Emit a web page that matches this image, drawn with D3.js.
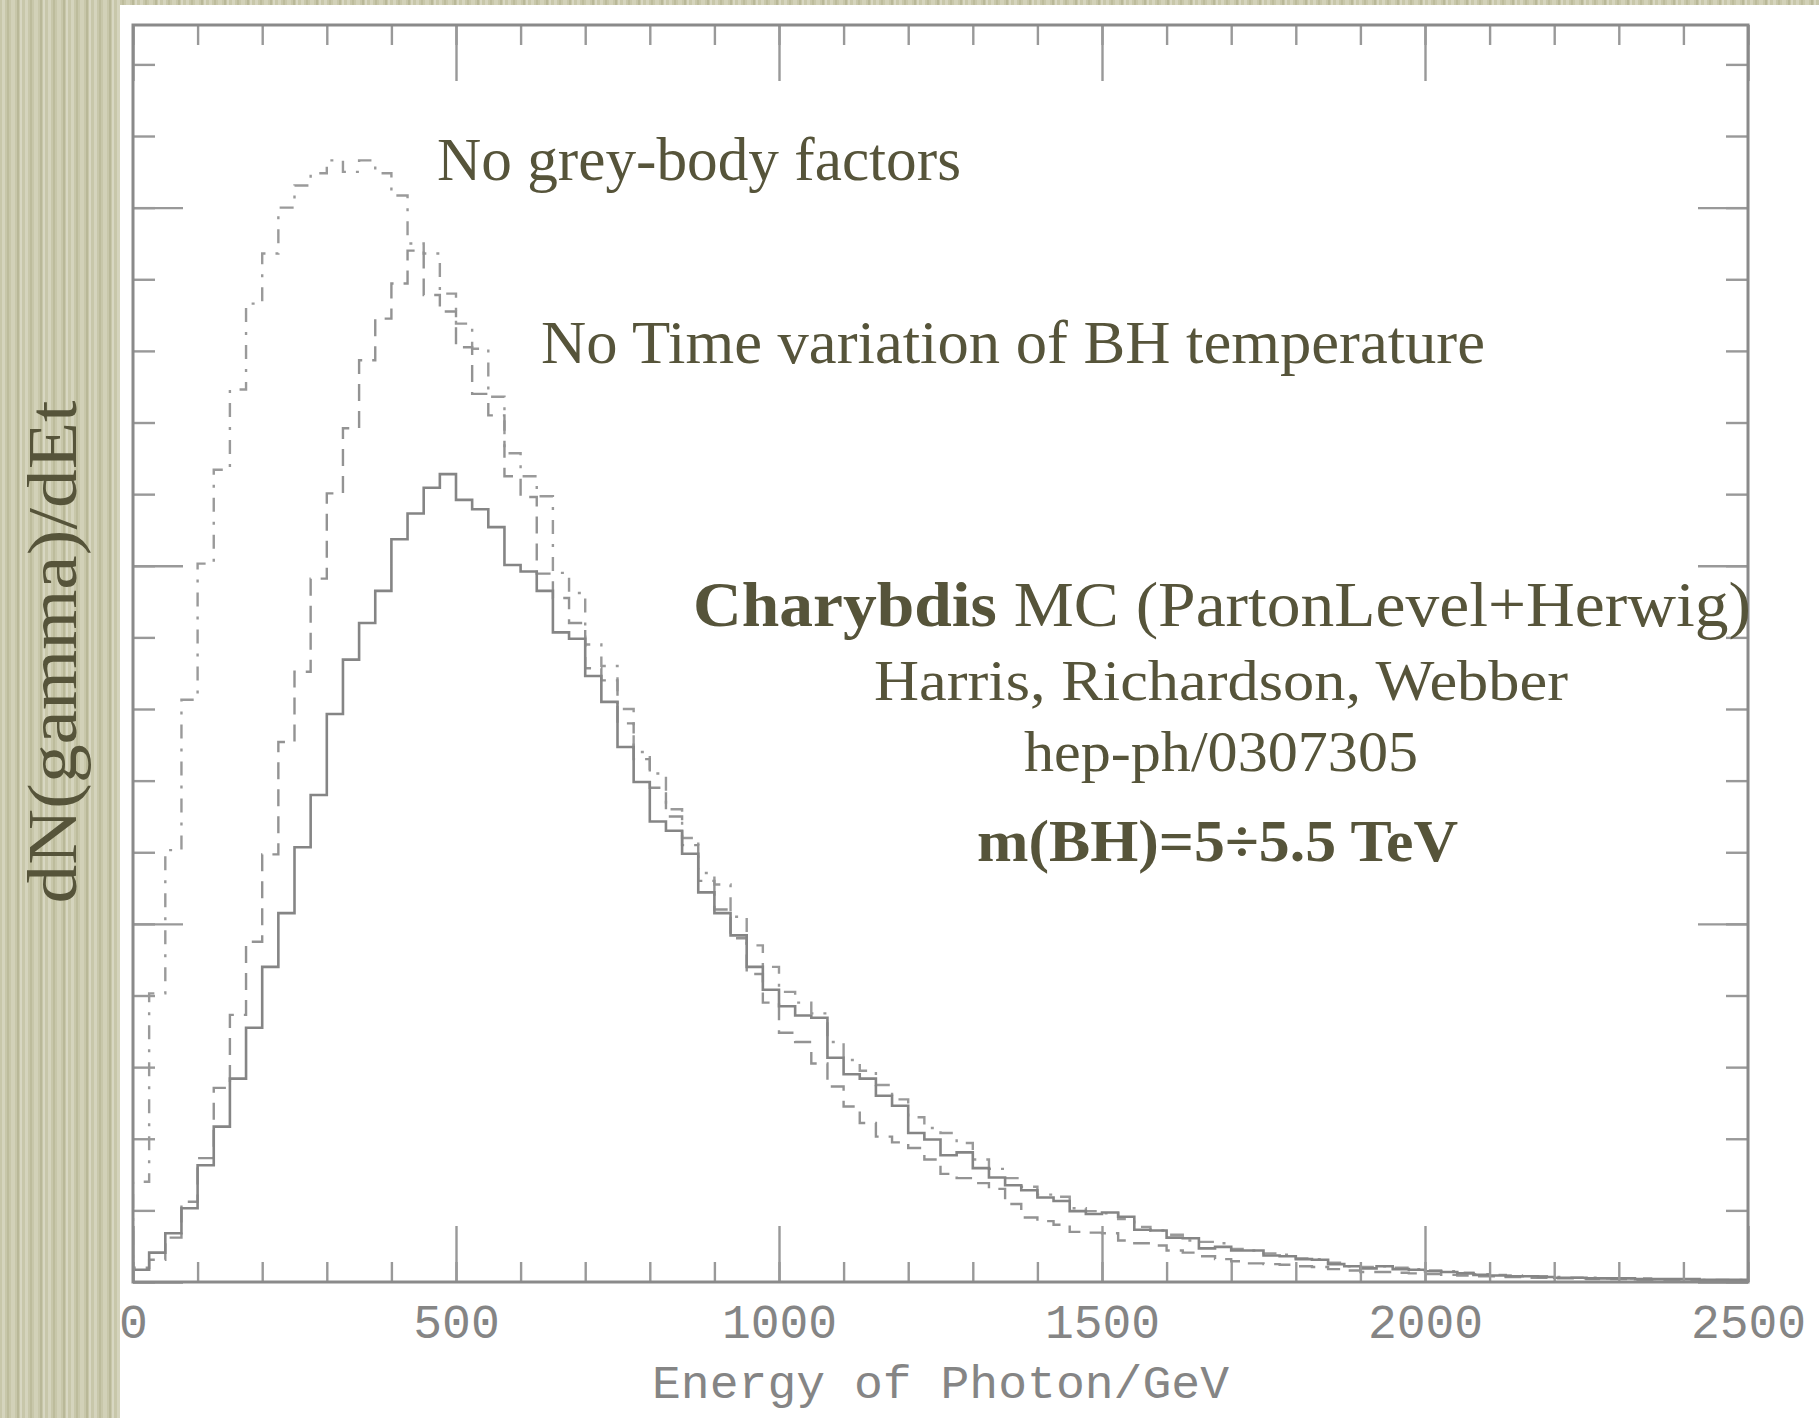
<!DOCTYPE html>
<html>
<head>
<meta charset="utf-8">
<script src="https://cdn.jsdelivr.net/npm/d3@7"></script>
<style>
  html, body { margin: 0; padding: 0; background: #c8c7a9; }
  svg { display: block; }
</style>
</head>
<body>
<svg id="chart" width="1819" height="1418"></svg>
<script>
// bins of 25 GeV, 0..2500
const binWidth = 25;

// full simulation (solid)
const charybdis = [
  0.17, 0.41, 0.68, 1.03, 1.63, 2.17, 2.84, 3.55, 4.40, 5.15,
  6.07, 6.80, 7.93, 8.69, 9.20, 9.65, 10.37, 10.73, 11.09, 11.28,
  10.92, 10.79, 10.54, 10.01, 9.92, 9.65, 9.07, 8.98, 8.46, 8.10,
  7.47, 6.98, 6.43, 6.30, 5.98, 5.44, 5.15, 4.84, 4.40, 4.08,
  3.85, 3.72, 3.69, 3.13, 2.90, 2.84, 2.60, 2.46, 2.08, 1.99,
  1.77, 1.81, 1.59, 1.46, 1.35, 1.28, 1.18, 1.13, 0.99, 0.95,
  0.97, 0.91, 0.73, 0.72, 0.62, 0.61, 0.47, 0.49, 0.44, 0.44,
  0.37, 0.36, 0.32, 0.31, 0.25, 0.22, 0.19, 0.22, 0.18, 0.17,
  0.15, 0.14, 0.12, 0.10, 0.09, 0.08, 0.08, 0.07, 0.06, 0.06,
  0.05, 0.05, 0.05, 0.04, 0.04, 0.04, 0.04, 0.03, 0.03, 0.03
];

// no time variation of BH temperature (dashed)
const noTimeVariation = [
  0.20, 0.31, 0.62, 1.12, 1.73, 2.71, 3.73, 4.75, 5.97, 7.54,
  8.52, 9.82, 11.01, 11.92, 12.87, 13.45, 13.94, 14.40, 13.78, 13.55,
  13.05, 12.40, 12.10, 11.25, 10.96, 9.89, 9.55, 9.20, 8.57, 8.40,
  7.80, 7.30, 6.90, 6.50, 6.10, 5.60, 5.20, 4.80, 4.30, 3.90,
  3.48, 3.35, 3.05, 2.73, 2.45, 2.22, 2.03, 1.95, 1.87, 1.71,
  1.51, 1.45, 1.38, 1.30, 1.09, 0.90, 0.85, 0.80, 0.70, 0.69,
  0.68, 0.58, 0.54, 0.51, 0.44, 0.41, 0.36, 0.32, 0.29, 0.26,
  0.25, 0.24, 0.22, 0.21, 0.18, 0.16, 0.14, 0.14, 0.13, 0.12,
  0.11, 0.10, 0.09, 0.08, 0.08, 0.07, 0.06, 0.06, 0.05, 0.05,
  0.04, 0.04, 0.04, 0.03, 0.03, 0.03, 0.03, 0.02, 0.02, 0.02
];

// no grey-body factors (dash-dot)
const noGreyBody = [
  1.40, 4.03, 6.03, 8.13, 10.03, 11.34, 12.46, 13.66, 14.36, 15.00,
  15.31, 15.48, 15.66, 15.50, 15.66, 15.48, 15.17, 14.50, 14.36, 13.80,
  13.38, 13.03, 12.36, 11.57, 11.25, 10.97, 9.90, 9.62, 8.90, 8.60,
  8.00, 7.40, 7.10, 6.60, 6.20, 5.71, 5.55, 5.10, 4.70, 4.40,
  4.05, 3.90, 3.75, 3.35, 3.10, 2.95, 2.75, 2.55, 2.30, 2.15,
  2.08, 1.94, 1.71, 1.58, 1.45, 1.33, 1.22, 1.19, 1.03, 0.99,
  0.96, 0.88, 0.77, 0.72, 0.66, 0.58, 0.56, 0.54, 0.46, 0.44,
  0.40, 0.38, 0.33, 0.32, 0.27, 0.22, 0.21, 0.22, 0.20, 0.18,
  0.16, 0.15, 0.13, 0.11, 0.10, 0.09, 0.08, 0.08, 0.07, 0.06,
  0.06, 0.05, 0.05, 0.05, 0.04, 0.04, 0.04, 0.03, 0.03, 0.03
];

const xTickLabels = [0, 500, 1000, 1500, 2000, 2500];
const xMinorStep = 100;
const yMax = 17.55;          // arbitrary units, one minor tick per unit
const yMajorStep = 5;

const svg = d3.select("#chart"),
  width = +svg.attr("width"),
  height = +svg.attr("height"),
  pLeft = 133, pRight = 1748, pTop = 25, pBottom = 1282;

const x = d3.scaleLinear().domain([0, 2500]).range([pLeft, pRight]);
const y = d3.scaleLinear().domain([0, yMax]).range([pBottom, pTop]);

// textured slide background
const defs = svg.append("defs");
const pat = defs.append("pattern")
  .attr("id", "paper").attr("patternUnits", "userSpaceOnUse")
  .attr("width", 23).attr("height", 60);
pat.append("rect").attr("width", 23).attr("height", 60).attr("fill", "#c8c7aa");
[[2, 3, "#d5d4bd"], [7, 2, "#bdbc9c"], [11, 4, "#d2d1b8"], [17, 2, "#b9b898"], [20, 2, "#d8d7c2"]]
  .forEach(([px, pw, c]) => pat.append("rect").attr("x", px).attr("width", pw).attr("height", 60).attr("fill", c));
svg.append("rect").attr("width", width).attr("height", height).attr("fill", "url(#paper)");
svg.append("rect").attr("x", 120).attr("y", 5).attr("width", width - 120).attr("height", height - 5).attr("fill", "#fff");

defs.append("clipPath").attr("id", "plot")
  .append("rect").attr("x", pLeft).attr("y", pTop).attr("width", pRight - pLeft).attr("height", pBottom - pTop);

// histograms
const step = d3.line().curve(d3.curveStepAfter).x(d => x(d[0])).y(d => y(d[1]));
const toSteps = (vals) => [[0, 0]].concat(vals.map((v, i) => [i * binWidth, v]), [[vals.length * binWidth, vals[vals.length - 1]]]);

const hg = svg.append("g").attr("clip-path", "url(#plot)").attr("fill", "none");
hg.append("path").attr("d", step(toSteps(noGreyBody)))
  .attr("stroke", "#9a9a9a").attr("stroke-width", 2.4).attr("stroke-dasharray", "14 10 3 10");
hg.append("path").attr("d", step(toSteps(noTimeVariation)))
  .attr("stroke", "#939393").attr("stroke-width", 2.4).attr("stroke-dasharray", "17 10");
hg.append("path").attr("d", step(toSteps(charybdis)))
  .attr("stroke", "#858585").attr("stroke-width", 2.6);

// axes (ticks inward on all four sides)
const minorX = d3.range(0, 2501, xMinorStep);
const minorY = d3.range(0, yMax, 1);
const majorY = d3.range(0, yMax, yMajorStep);
const axisStyle = (g) => {
  g.select(".domain").remove();
  g.selectAll(".tick line").attr("stroke", "#999").attr("stroke-width", 2.4);
};
svg.append("g").attr("transform", `translate(0,${pBottom})`)
  .call(d3.axisBottom(x).tickValues(minorX).tickSize(-20).tickFormat("")).call(axisStyle);
svg.append("g").attr("transform", `translate(0,${pTop})`)
  .call(d3.axisTop(x).tickValues(minorX).tickSize(-20).tickFormat("")).call(axisStyle);
svg.append("g").attr("transform", `translate(0,${pBottom})`)
  .call(d3.axisBottom(x).tickValues(xTickLabels).tickSize(-56).tickFormat("")).call(axisStyle);
svg.append("g").attr("transform", `translate(0,${pTop})`)
  .call(d3.axisTop(x).tickValues(xTickLabels).tickSize(-56).tickFormat("")).call(axisStyle);
svg.append("g").attr("transform", `translate(${pLeft},0)`)
  .call(d3.axisLeft(y).tickValues(minorY).tickSize(-22).tickFormat("")).call(axisStyle);
svg.append("g").attr("transform", `translate(${pRight},0)`)
  .call(d3.axisRight(y).tickValues(minorY).tickSize(-22).tickFormat("")).call(axisStyle);
svg.append("g").attr("transform", `translate(${pLeft},0)`)
  .call(d3.axisLeft(y).tickValues(majorY).tickSize(-50).tickFormat("")).call(axisStyle);
svg.append("g").attr("transform", `translate(${pRight},0)`)
  .call(d3.axisRight(y).tickValues(majorY).tickSize(-50).tickFormat("")).call(axisStyle);

// tick labels
const lab = svg.append("g").attr("transform", `translate(0,${pBottom})`)
  .call(d3.axisBottom(x).tickValues(xTickLabels).tickSize(0).tickPadding(26).tickFormat(d3.format("d")));
lab.select(".domain").remove();
lab.selectAll("text").attr("font-family", "Liberation Mono, monospace").attr("font-size", 48)
  .attr("fill", "#858585").attr("dy", "0.62em");

// frame
svg.append("rect").attr("x", pLeft).attr("y", pTop).attr("width", pRight - pLeft).attr("height", pBottom - pTop)
  .attr("fill", "none").attr("stroke", "#8a8a8a").attr("stroke-width", 3);

svg.append("text").attr("x", (pLeft + pRight) / 2).attr("y", 1398).attr("text-anchor", "middle")
  .attr("font-family", "Liberation Mono, monospace").attr("font-size", 46).attr("fill", "#858585")
  .attr("textLength", 577).attr("lengthAdjust", "spacingAndGlyphs")
  .text("Energy of Photon/GeV");

// annotations
const olive = "#56543a";
const serif = "Liberation Serif, Times New Roman, serif";
const note = (tx, ty, size, len, weight) => svg.append("text").attr("x", tx).attr("y", ty)
  .attr("font-family", serif).attr("font-size", size).attr("fill", olive)
  .attr("font-weight", weight || "normal")
  .attr("textLength", len).attr("lengthAdjust", "spacingAndGlyphs");

note(437, 180, 62, 524).text("No grey-body factors");
note(541, 363, 61, 944).text("No Time variation of BH temperature");
const t3 = note(693, 626, 64, 1058);
t3.append("tspan").attr("font-weight", "bold").text("Charybdis");
t3.append("tspan").text(" MC (PartonLevel+Herwig)");
note(874, 700, 57, 694).text("Harris, Richardson, Webber");
note(1024, 771, 58, 394).text("hep-ph/0307305");
note(977, 861, 60, 481, "bold").text("m(BH)=5÷5.5 TeV");

// y label on the slide margin
svg.append("text").attr("transform", "translate(76,652) rotate(-90)").attr("text-anchor", "middle")
  .attr("font-family", serif).attr("font-size", 70).attr("fill", olive)
  .attr("textLength", 503).attr("lengthAdjust", "spacingAndGlyphs")
  .text("dN(gamma)/dEt");
</script>
</body>
</html>
